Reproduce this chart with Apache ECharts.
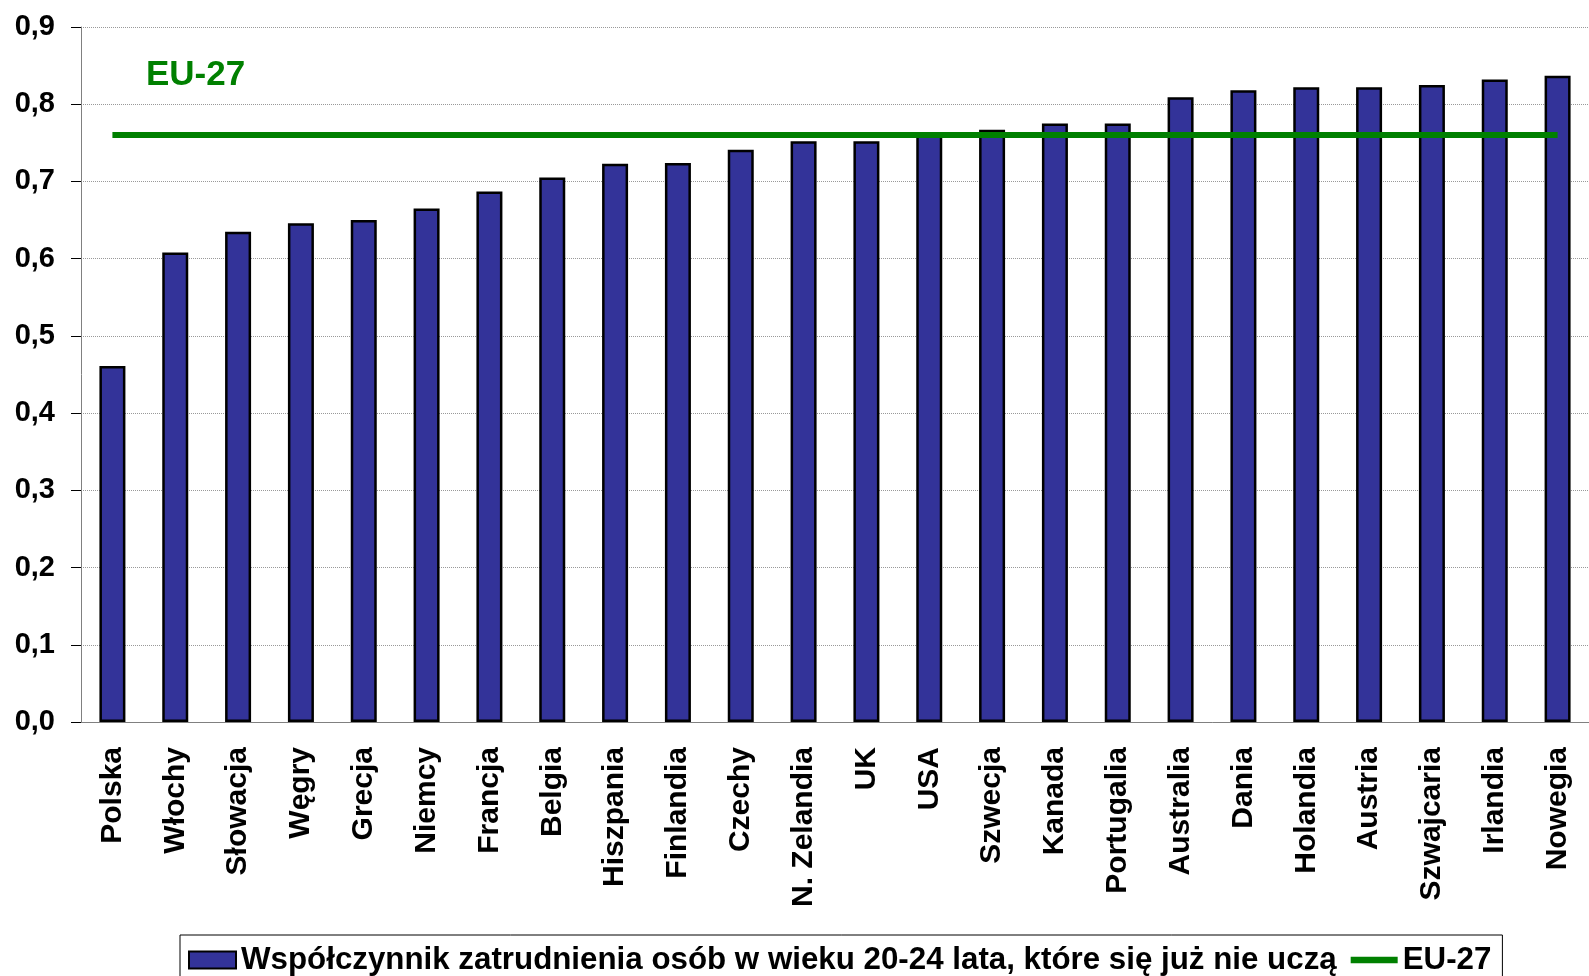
<!DOCTYPE html>
<html>
<head>
<meta charset="utf-8">
<script src="https://cdn.jsdelivr.net/npm/echarts@6/dist/echarts.min.js"></script>
<style>
  html, body { margin: 0; padding: 0; background: #fff; }
  #chart { width: 1589px; height: 976px; }
</style>
</head>
<body>
<div id="chart"></div>
<script>
const countries = ['Polska', 'Włochy', 'Słowacja', 'Węgry', 'Grecja', 'Niemcy', 'Francja', 'Belgia',
  'Hiszpania', 'Finlandia', 'Czechy', 'N. Zelandia', 'UK', 'USA', 'Szwecja', 'Kanada', 'Portugalia',
  'Australia', 'Dania', 'Holandia', 'Austria', 'Szwajcaria', 'Irlandia', 'Nowegia'];
const employmentRate = [0.461, 0.608, 0.635, 0.646, 0.650, 0.665, 0.687, 0.705, 0.723, 0.724, 0.741,
  0.752, 0.752, 0.760, 0.767, 0.775, 0.775, 0.809, 0.818, 0.822, 0.822, 0.825, 0.832, 0.837];
const eu27Value = 0.76;
const eu27Line = countries.map(() => eu27Value);

const barName = 'Współczynnik zatrudnienia osób w wieku 20-24 lata, które się już nie uczą';
const lineName = 'EU-27';
const font = 'Arial, "Liberation Sans", sans-serif';

const chart = echarts.init(document.getElementById('chart'));

chart.setOption({
  animation: false,
  grid: { left: 81, top: 27, width: 1520, height: 695 },
  graphic: [{
    type: 'text',
    left: 146,
    top: 58,
    style: { text: 'EU-27', fill: '#008000', font: 'bold 35px ' + font }
  }],
  legend: {
    left: 180,
    top: 935,
    padding: [9, 11, 20, 8],
    itemGap: 14,
    itemWidth: 47,
    itemHeight: 17,
    borderColor: '#000',
    borderWidth: 1,
    textStyle: { color: '#000', fontFamily: font, fontWeight: 'bold', fontSize: 31.3, lineHeight: 32 },
    data: [
      { name: barName, icon: 'rect' },
      { name: lineName, icon: 'path://M0,0L45,0L45,6L0,6Z', itemStyle: { color: '#008000', borderWidth: 0 } }
    ]
  },
  xAxis: {
    type: 'category',
    data: countries,
    axisLine: { lineStyle: { color: '#808080', width: 1 } },
    axisTick: { length: 10, lineStyle: { color: '#000' } },
    axisLabel: {
      rotate: 90,
      margin: 25,
      interval: 0,
      color: '#000',
      fontFamily: font,
      fontWeight: 'bold',
      fontSize: 30
    }
  },
  yAxis: {
    type: 'value',
    min: 0,
    max: 0.9,
    interval: 0.1,
    axisLine: { show: true, lineStyle: { color: '#808080', width: 1 } },
    axisTick: { show: true, length: 10, lineStyle: { color: '#000' } },
    splitLine: { lineStyle: { color: '#999', type: 'dotted', width: 1 } },
    axisLabel: {
      margin: 26,
      color: '#000',
      fontFamily: font,
      fontWeight: 'bold',
      fontSize: 29,
      formatter: v => v.toFixed(1).replace('.', ',')
    }
  },
  series: [
    {
      name: barName,
      type: 'bar',
      data: employmentRate,
      barWidth: 26,
      itemStyle: { color: '#333399', borderColor: '#000', borderWidth: 2.5 }
    },
    {
      name: lineName,
      type: 'line',
      data: eu27Line,
      symbol: 'none',
      lineStyle: { color: '#008000', width: 6 },
      itemStyle: { color: '#008000' }
    }
  ]
});
</script>
</body>
</html>
